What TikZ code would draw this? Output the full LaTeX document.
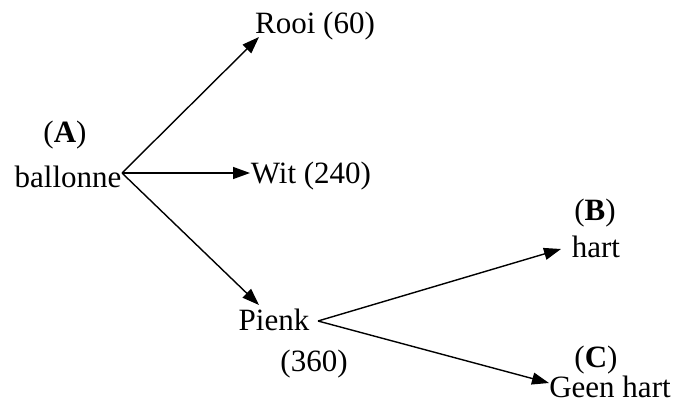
\documentclass[tikz,border=0pt]{standalone}
\usepackage{fontspec}
\setmainfont{Liberation Serif}
\usetikzlibrary{arrows.meta}
\begin{document}
\begin{tikzpicture}[x=1pt,y=-1pt,
  lbl/.style={inner sep=0pt,anchor=base,font=\fontsize{31}{36}\selectfont},
  arr/.style={line width=1.4pt,-{Triangle[length=17pt,width=12pt]}}]
\useasboundingbox (0,0) rectangle (673,407);
% labels
\node[lbl] (Alab) at (65,142) {(\textbf{A})};
\node[lbl] (ballonne) at (68,187) {ballonne};
\node[lbl] (rooi) at (315,33) {Rooi (60)};
\node[lbl] (wit) at (311,183) {Wit (240)};
\node[lbl] (pienk) at (274,330) {Pienk};
\node[lbl] (p360) at (314,371) {(360)};
\node[lbl] (Blab) at (595,220) {(\textbf{B})};
\node[lbl] (hart) at (596,257) {hart};
\node[lbl] (Clab) at (596,367) {(\textbf{C})};
\node[lbl] (geen) at (610,397) {Geen hart};
% connector end points
\coordinate (Aj) at (122,173);
\coordinate (rooiT) at (259,37);
\coordinate (witT) at (250,173);
\coordinate (pienkT) at (259,305);
\coordinate (Pj) at (318,321);
\coordinate (hartT) at (561,249);
\coordinate (geenT) at (549,383);
% connectors
\draw[arr] (Aj) -- (rooiT);
\draw[arr] (Aj) -- (witT);
\draw[arr] (Aj) -- (pienkT);
\draw[arr] (Pj) -- (hartT);
\draw[arr] (Pj) -- (geenT);
\end{tikzpicture}
\end{document}
